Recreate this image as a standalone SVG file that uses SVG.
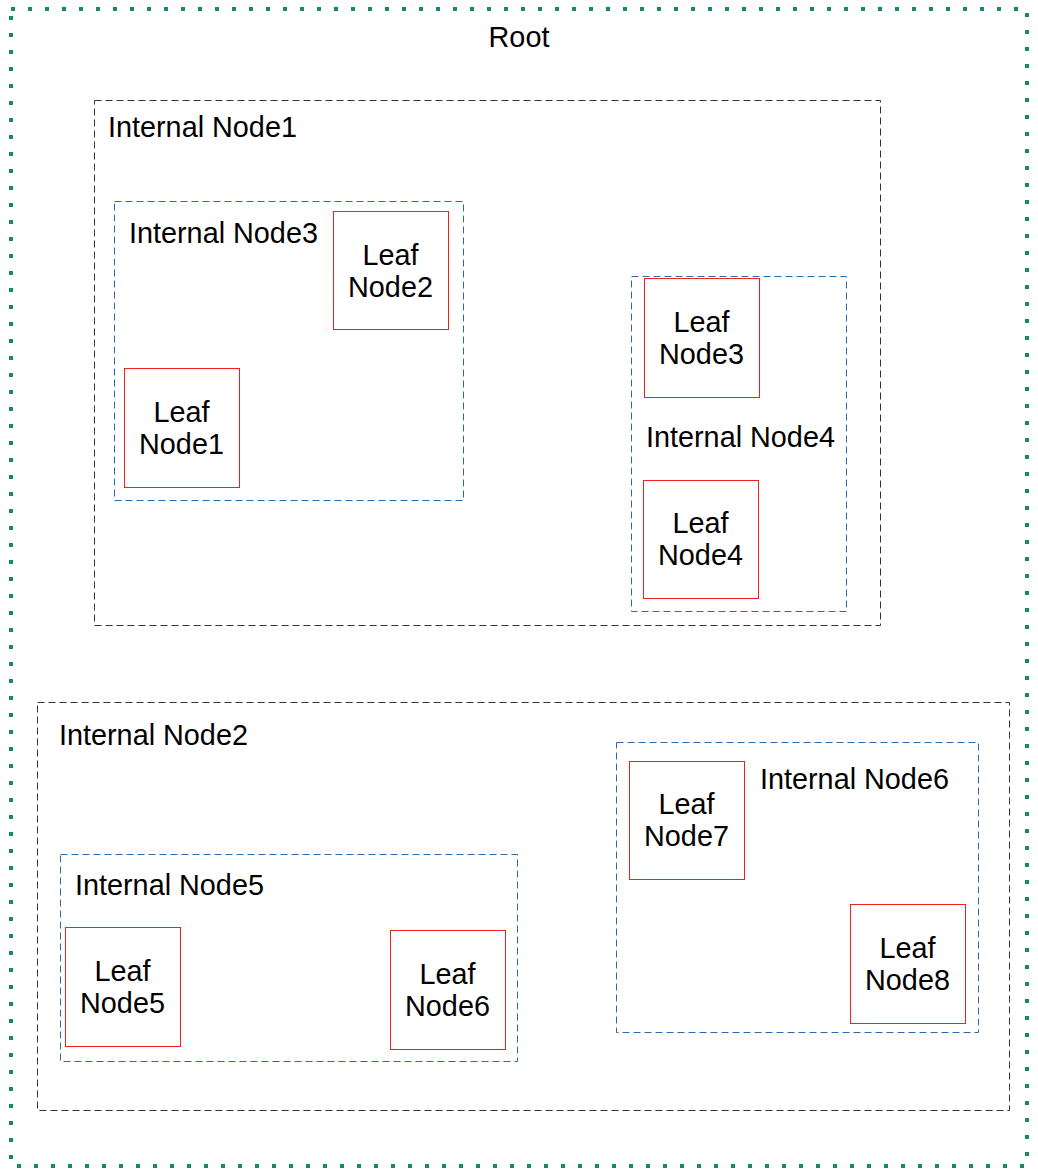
<svg xmlns="http://www.w3.org/2000/svg" width="1038" height="1169" viewBox="0 0 1038 1169">
<style>
text{font-family:"Liberation Sans",Arial,sans-serif;font-size:28.8px;fill:#000}
.root{fill:none;stroke:#168a66;stroke-width:4;stroke-dasharray:4 13}
.int{fill:none;stroke:#333;stroke-width:1;stroke-dasharray:7 4}
.sub{fill:none;stroke:#2a6ab0;stroke-width:1;stroke-dasharray:7 4}
.leaf{fill:#fff;stroke:#ee2020;stroke-width:1}
.c{text-anchor:middle}
</style>
<rect width="1038" height="1169" fill="#fff"/>
<g id="root"><rect class="root" x="11" y="9" width="1016" height="1157"/><text class="c" x="519" y="47">Root</text></g>
<g id="internal1"><rect class="int" x="94.5" y="100.5" width="786" height="525"/><text x="108" y="137">Internal Node1</text></g>
<g id="internal3"><rect class="sub" x="114.5" y="201.5" width="349" height="299"/><text x="129" y="243">Internal Node3</text></g>
<g id="leaf2"><rect class="leaf" x="333.5" y="211.5" width="115" height="118"/><text class="c" x="390.5" y="265">Leaf</text><text class="c" x="390.5" y="297">Node2</text></g>
<g id="leaf1"><rect class="leaf" x="124.5" y="368.5" width="115" height="119"/><text class="c" x="181.5" y="422">Leaf</text><text class="c" x="181.5" y="454">Node1</text></g>
<g id="internal4"><rect class="sub" x="631.5" y="276.5" width="215" height="335"/><text x="646" y="447">Internal Node4</text></g>
<g id="leaf3"><rect class="leaf" x="644.5" y="278.5" width="115" height="119"/><text class="c" x="701.5" y="332">Leaf</text><text class="c" x="701.5" y="364">Node3</text></g>
<g id="leaf4"><rect class="leaf" x="643.5" y="480.5" width="115" height="118"/><text class="c" x="700.5" y="533">Leaf</text><text class="c" x="700.5" y="565">Node4</text></g>
<g id="internal2"><rect class="int" x="37.5" y="702.5" width="972" height="408"/><text x="59" y="745">Internal Node2</text></g>
<g id="internal5"><rect class="sub" x="60.5" y="854.5" width="457" height="207"/><text x="75" y="895">Internal Node5</text></g>
<g id="leaf5"><rect class="leaf" x="65.5" y="927.5" width="115" height="119"/><text class="c" x="122.5" y="981">Leaf</text><text class="c" x="122.5" y="1013">Node5</text></g>
<g id="leaf6"><rect class="leaf" x="390.5" y="930.5" width="115" height="119"/><text class="c" x="447.5" y="984">Leaf</text><text class="c" x="447.5" y="1016">Node6</text></g>
<g id="internal6"><rect class="sub" x="616.5" y="742.5" width="362" height="290"/><text x="760" y="789">Internal Node6</text></g>
<g id="leaf7"><rect class="leaf" x="629.5" y="761.5" width="115" height="118"/><text class="c" x="686.5" y="814">Leaf</text><text class="c" x="686.5" y="846">Node7</text></g>
<g id="leaf8"><rect class="leaf" x="850.5" y="904.5" width="115" height="119"/><text class="c" x="907.5" y="958">Leaf</text><text class="c" x="907.5" y="990">Node8</text></g>
<g id="connectors"></g>
</svg>
